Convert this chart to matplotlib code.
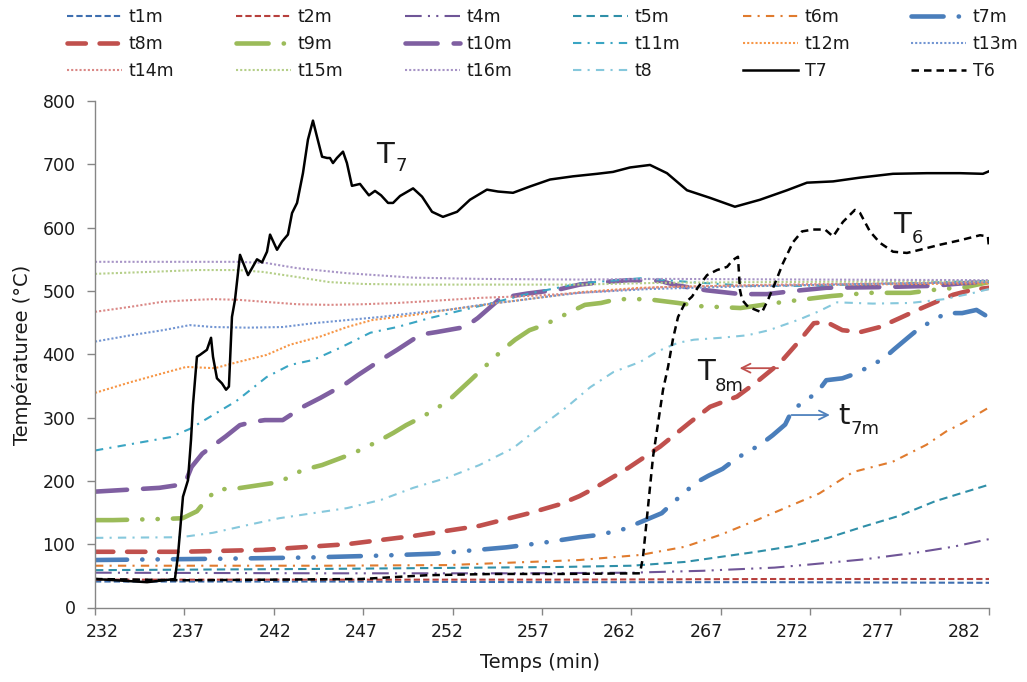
import matplotlib
matplotlib.use('Agg')
import matplotlib.pyplot as plt
import numpy as np

plt.rcParams['font.family'] = ['DejaVu Sans']
plt.rcParams['font.size'] = 12.5
plt.rcParams['text.color'] = '#1a1a1a'

# ---------------- data (time in min, temperature in °C) ----------------
time_t1m = [232, 245, 258, 270, 282]
temp_t1m = [41, 41, 40, 40, 39]

time_t2m = [232, 245, 258, 270, 282]
temp_t2m = [44, 44, 44, 45, 45]

time_t4m = [232, 245, 256, 262, 266, 270, 272, 275, 278, 280, 282]
temp_t4m = [55, 54, 54, 55, 58, 63, 68, 76, 87, 96, 108]

time_t5m = [232, 245, 258, 262, 265, 267, 269, 271, 273, 275, 277, 279, 282]
temp_t5m = [59, 61, 64, 66, 72, 80, 88, 97, 110, 128, 145, 168, 194]

time_t6m = [232, 245, 251.7, 259.1, 262.5, 265, 267, 269, 271, 272.5, 274.4, 276.6, 278.5, 279.6, 280.5, 282]
temp_t6m = [66, 66, 67, 75, 83, 96, 115, 138, 162, 180, 214, 230, 257, 278, 291, 316]

time_t7m = [232, 239, 244, 248, 251, 253, 255, 257, 259.1, 260, 261.4, 262.1, 263.7, 264.3, 265.6,
            266.3, 267.1, 267.9, 269.2, 269.9, 270.6, 271.0, 272.4, 272.9, 273.8, 274.6, 276.1,
            276.7, 277.5, 278.1, 279.6, 280.5, 281.3, 282]
temp_t7m = [75, 77, 79, 82, 85, 90, 95, 102, 111, 114, 122, 130, 149, 165, 197,
            208, 219, 236, 257, 272, 289, 312, 340, 359, 362, 370, 393,
            408, 427, 441, 465, 465, 470, 458]

time_t8m = [232, 236.8, 241.4, 246.1, 249.8, 253.5, 256.3, 258, 259.1, 259.9, 261.8, 263.6, 265.3,
            266.4, 267.9, 269.0, 270.3, 271.3, 272.2, 272.9, 273.8, 274.8, 275.9, 277.0, 278.0,
            278.9, 280.0, 281.1, 282]
temp_t8m = [88, 88, 91, 100, 113, 129, 149, 163, 176, 188, 220, 254, 293,
            317, 333, 356, 386, 418, 449, 451, 438, 435, 443, 457, 470,
            481, 494, 502, 505]

time_t9m = [232, 233, 236, 236.9, 237.7, 238.3, 238.9, 239.7, 242.3, 243.6, 244.7, 246.4, 247.8,
            248.7, 249.4, 250.3, 251.7, 253.0, 253.6, 254.8, 255.5, 256.3, 257.1, 258.6, 259.4,
            260.3, 261.2, 262.9, 264.6, 265.8, 268.1, 270.6, 273.2, 275.3, 277.6, 279.3, 280.7, 282]
temp_t9m = [138, 138, 140, 141, 152, 173, 187, 187, 198, 217, 225, 243, 262,
            276, 288, 301, 325, 359, 375, 407, 423, 438, 446, 467, 478,
            481, 487, 487, 481, 476, 473, 483, 492, 497, 497, 503, 506, 514]

time_t10m = [232, 235.6, 236.8, 237.1, 237.4, 238.0, 239.3, 240.1, 240.8, 241.5, 242.5, 243.7,
             244.6, 246.0, 246.7, 248.1, 248.9, 250.2, 251.1, 252.7, 253.4, 254.7, 256.2, 257.9,
             259.1, 260.4, 261.9, 263.6, 264.5, 266.2, 268.1, 269.6, 271.1, 272.9, 275.9, 278.8,
             280.5, 282]
temp_t10m = [183, 189, 194, 201, 222, 243, 270, 288, 293, 296, 296, 318,
             331, 353, 367, 393, 407, 431, 435, 443, 457, 489, 496, 502,
             510, 514, 517, 516, 509, 501, 495, 495, 500, 505, 506, 508,
             512, 515]

time_t11m = [232, 236.2, 237.3, 238.6, 239.9, 241.6, 242.9, 244.2, 245.7, 247.4, 248.9, 250.7,
             252.6, 254.5, 256.3, 259.1, 262.5, 265.8, 268.6, 271.4, 277, 282]
temp_t11m = [248, 269, 282, 304, 326, 364, 383, 391, 410, 434, 443, 457,
             470, 483, 496, 512, 520, 513, 508, 508, 512, 516]

time_t12m = [232, 234.0, 235.8, 237.1, 238.7, 239.9, 241.6, 242.9, 244.6, 246.1, 247.5, 249.8,
             251.7, 254.5, 257.3, 259.1, 262.5, 267, 274, 282]
temp_t12m = [339, 356, 370, 380, 378, 387, 399, 415, 428, 443, 454, 462,
             470, 481, 491, 498, 505, 508, 510, 512]

time_t13m = [232, 234, 235.8, 237.3, 238.6, 240.5, 242.5, 244.2, 246.1, 248.0, 249.8, 251.7,
             253.6, 255.4, 257.3, 259.1, 263, 268, 275, 282]
temp_t13m = [420, 430, 438, 446, 443, 442, 443, 449, 454, 459, 465, 470,
             478, 484, 491, 497, 503, 507, 511, 514]

time_t14m = [232, 234, 235.8, 237.7, 238.6, 240, 241.4, 243.3, 245.1, 247, 248.9, 250.7,
             253.5, 256.3, 259.1, 263.6, 270, 282]
temp_t14m = [467, 475, 483, 486, 487, 486, 483, 479, 478, 479, 481, 484,
             489, 492, 497, 506, 510, 514]

time_t15m = [232, 235, 237.7, 240, 241.4, 243.3, 245.1, 247, 250, 259, 264, 282]
temp_t15m = [527, 530, 533, 533, 530, 522, 514, 511, 510, 510, 513, 516]

time_t16m = [232, 237, 240, 241.6, 243.3, 246.1, 249.8, 253.5, 259, 264, 272, 282]
temp_t16m = [546, 546, 546, 544, 536, 528, 521, 519, 518, 519, 518, 517]

time_t8 = [232, 236.8, 238.6, 240.5, 242.3, 244.2, 246.1, 248, 249.8, 251.7, 253.5, 255.4, 256.7,
           258.4, 259.7, 261, 262.5, 263.5, 264.6, 265.5, 267, 268.5, 269.7, 271.4, 272.5, 273.5,
           275.5, 277.6, 279.5, 281, 282]
temp_t8 = [110, 111, 118, 130, 141, 149, 157, 170, 189, 205, 225, 252, 281,
           317, 348, 372, 388, 405, 418, 423, 426, 430, 438, 455, 468, 482,
           480, 481, 487, 496, 503]

time_T7 = [232.00, 234.91, 236.47, 236.64, 236.92, 237.20, 237.37, 237.48, 237.70, 237.87, 238.26,
           238.49, 238.60, 238.82, 239.10, 239.33, 239.49, 239.66, 239.83, 240.11, 240.56, 241.06,
           241.34, 241.62, 241.79, 242.18, 242.46, 242.79, 243.02, 243.30, 243.63, 243.91, 244.19,
           244.42, 244.70, 244.98, 245.14, 245.31, 245.53, 245.87, 246.09, 246.37, 246.82, 247.04,
           247.32, 247.66, 248.00, 248.39, 248.67, 249.06, 249.79, 250.29, 250.85, 251.46, 252.25,
           252.97, 253.92, 254.54, 255.38, 256.33, 257.45, 258.73, 260.08, 260.97, 261.92, 263.04,
           263.99, 265.11, 266.40, 267.79, 269.19, 270.70, 271.82, 273.28, 274.79, 276.63, 278.53,
           280.38, 281.66, 282.00]
temp_T7 = [45, 40, 45, 82, 175, 201, 265, 320, 396, 399, 407,
           426, 396, 362, 354, 344, 349, 459, 486, 557, 525, 550,
           545, 562, 589, 565, 578, 589, 623, 639, 686, 739, 769,
           743, 712, 710, 710, 702, 710, 720, 702, 666, 669, 661,
           651, 658, 651, 639, 639, 650, 662, 649, 625, 617, 625,
           644, 660, 657, 655, 665, 676, 681, 685, 688, 695, 699,
           686, 659, 647, 633, 644, 659, 671, 673, 679, 685, 686,
           686, 685, 689]

time_T6 = [232, 237, 246.9, 248.7, 250.6, 254.3, 258.1, 262.48, 262.65, 262.93, 263.21, 263.49,
           263.77, 264.05, 264.33, 264.61, 265.0, 265.39, 265.73, 266.23, 266.79, 267.35, 267.68,
           267.96, 268.07, 268.19, 268.52, 269.30, 269.64, 270.03, 270.48, 271.04, 271.54, 272.16,
           272.83, 273.28, 273.83, 274.50, 274.79, 275.34, 275.90, 276.63, 277.41, 278.14, 279.26,
           280.38, 281.50, 281.94, 282]
temp_T6 = [45, 43, 45, 48, 51, 53, 53, 54, 80, 159, 238, 291,
           344, 380, 425, 459, 481, 491, 506, 525, 533, 538, 549,
           554, 502, 486, 475, 466, 486, 512, 544, 577, 594, 597,
           597, 586, 609, 628, 623, 594, 576, 562, 560, 565, 573,
           580, 588, 586, 568]

x_tick_labels = ['232', '237', '242', '247', '252', '257', '262', '267', '272', '277', '282']
y_ticks = [0, 100, 200, 300, 400, 500, 600, 700, 800]

# ---------------- styles ----------------
LDD = (0, (7, 3.3, 0.05, 3.3, 0.05, 3.3))
styles = {
    't1m':  dict(color='#3E6FB0', lw=1.5, ls=(0, (3, 1.5))),
    't2m':  dict(color='#B7403D', lw=1.5, ls=(0, (3, 1.5))),
    't4m':  dict(color='#6F5597', lw=1.5, ls=(0, (8, 3, 1, 3, 1, 3))),
    't5m':  dict(color='#2F8FA8', lw=1.5, ls=(0, (4, 2.5))),
    't6m':  dict(color='#E07B2E', lw=1.5, ls=(0, (4, 3, 1, 3))),
    't7m':  dict(color='#4A7EBB', lw=3.3, ls=LDD, dash_capstyle='round'),
    't8m':  dict(color='#C0504D', lw=3.3, ls=(0, (4, 3)), dash_capstyle='round'),
    't9m':  dict(color='#9BBB59', lw=3.3, ls=LDD, dash_capstyle='round'),
    't10m': dict(color='#7F5FA1', lw=3.3, ls=(0, (7, 3.5)), dash_capstyle='round'),
    't11m': dict(color='#3AA5C3', lw=1.5, ls=(0, (4, 3, 1, 3))),
    't12m': dict(color='#F79646', lw=1.5, ls=(0, (1, 1))),
    't13m': dict(color='#7295D2', lw=1.5, ls=(0, (1, 1))),
    't14m': dict(color='#DA8886', lw=1.5, ls=(0, (1, 1))),
    't15m': dict(color='#B5CF89', lw=1.5, ls=(0, (1, 1))),
    't16m': dict(color='#A794C6', lw=1.5, ls=(0, (1, 1))),
    't8':   dict(color='#86C8DC', lw=1.5, ls=(0, (4, 3, 1, 3))),
    'T7':   dict(color='black', lw=1.8, ls='-'),
    'T6':   dict(color='black', lw=1.8, ls=(0, (3, 2))),
}

series = [
    ('t1m', time_t1m, temp_t1m), ('t2m', time_t2m, temp_t2m), ('t4m', time_t4m, temp_t4m),
    ('t5m', time_t5m, temp_t5m), ('t6m', time_t6m, temp_t6m), ('t7m', time_t7m, temp_t7m),
    ('t8m', time_t8m, temp_t8m), ('t9m', time_t9m, temp_t9m), ('t10m', time_t10m, temp_t10m),
    ('t11m', time_t11m, temp_t11m), ('t12m', time_t12m, temp_t12m), ('t13m', time_t13m, temp_t13m),
    ('t14m', time_t14m, temp_t14m), ('t15m', time_t15m, temp_t15m), ('t16m', time_t16m, temp_t16m),
    ('t8', time_t8, temp_t8), ('T7', time_T7, temp_T7), ('T6', time_T6, temp_T6),
]

W, H = 1027, 682
fig = plt.figure(figsize=(W / 100, H / 100), dpi=100)
ax = fig.add_axes([95 / W, 74.5 / H, 894 / W, 506.5 / H])

handles = {}
for name, tt, vv in series:
    st = dict(styles[name])
    ls = st.pop('ls')
    line, = ax.plot(tt, vv, linestyle=ls, label=name, **st)
    handles[name] = line

ax.set_xlim(232, 282)
ax.set_ylim(0, 800)
for s in ['top', 'right']:
    ax.spines[s].set_visible(False)
for s in ['left', 'bottom']:
    ax.spines[s].set_color('#868686')
    ax.spines[s].set_linewidth(1.0)

ax.set_yticks(y_ticks)
ax.tick_params(axis='y', which='major', direction='out', length=5.5, width=1,
               color='#868686', pad=8.5, labelsize=12.5, labelcolor='#1a1a1a')
ax.set_xticks(np.arange(232, 283, 5))
ax.set_xticklabels([])
ax.tick_params(axis='x', which='major', direction='out', length=5, width=1, color='#868686')
label_pos = 232.42 + 4.821 * np.arange(len(x_tick_labels))
ax.set_xticks(label_pos, minor=True)
ax.set_xticklabels(x_tick_labels, minor=True)
ax.tick_params(axis='x', which='minor', length=0, pad=11, labelsize=12.5, labelcolor='#1a1a1a')

fig.text(22 / W, 1 - 355 / H, 'Températuree (°C)', rotation=90, ha='center', va='center', fontsize=14)
fig.text(540 / W, 1 - 663 / H, 'Temps (min)', ha='center', va='center', fontsize=14)

# annotations
def label(x, y, main, sub, xs, ys):
    ax.text(x, y, main, fontsize=21, ha='left', va='baseline', color='#1a1a1a')
    ax.text(xs, ys, sub, fontsize=13, ha='left', va='baseline', color='#1a1a1a')

label(247.75, 702, 'T', '7', 248.78, 689)
label(276.65, 592, 'T', '6', 277.7, 576)
label(265.65, 360, 'T', '8m', 266.68, 342)
label(273.55, 290, 't', '7m', 274.25, 274)

ax.annotate('', xy=(268.05, 378), xytext=(270.2, 378),
            arrowprops=dict(arrowstyle='->', color='#C0504D', lw=1.3, shrinkA=0, shrinkB=0, mutation_scale=16))
ax.annotate('', xy=(273.1, 304), xytext=(270.95, 304),
            arrowprops=dict(arrowstyle='->', color='#4F81BD', lw=1.3, shrinkA=0, shrinkB=0, mutation_scale=16))

# legend: 6 columns x 3 rows
order = [['t1m', 't8m', 't14m'], ['t2m', 't9m', 't15m'], ['t4m', 't10m', 't16m'],
         ['t5m', 't11m', 't8'], ['t6m', 't12m', 'T7'], ['t7m', 't13m', 'T6']]
col_x = [67, 236, 405, 573, 743, 911]
for cx, names in zip(col_x, order):
    fig.legend([handles[n] for n in names], names, loc='center left',
               bbox_to_anchor=(cx / W, 1 - 44 / H), bbox_transform=fig.transFigure,
               frameon=False, borderpad=0, borderaxespad=0, handlelength=3.16,
               handletextpad=0.4, labelspacing=0.5, fontsize=12.5)

fig.savefig('out.png', dpi=100)
